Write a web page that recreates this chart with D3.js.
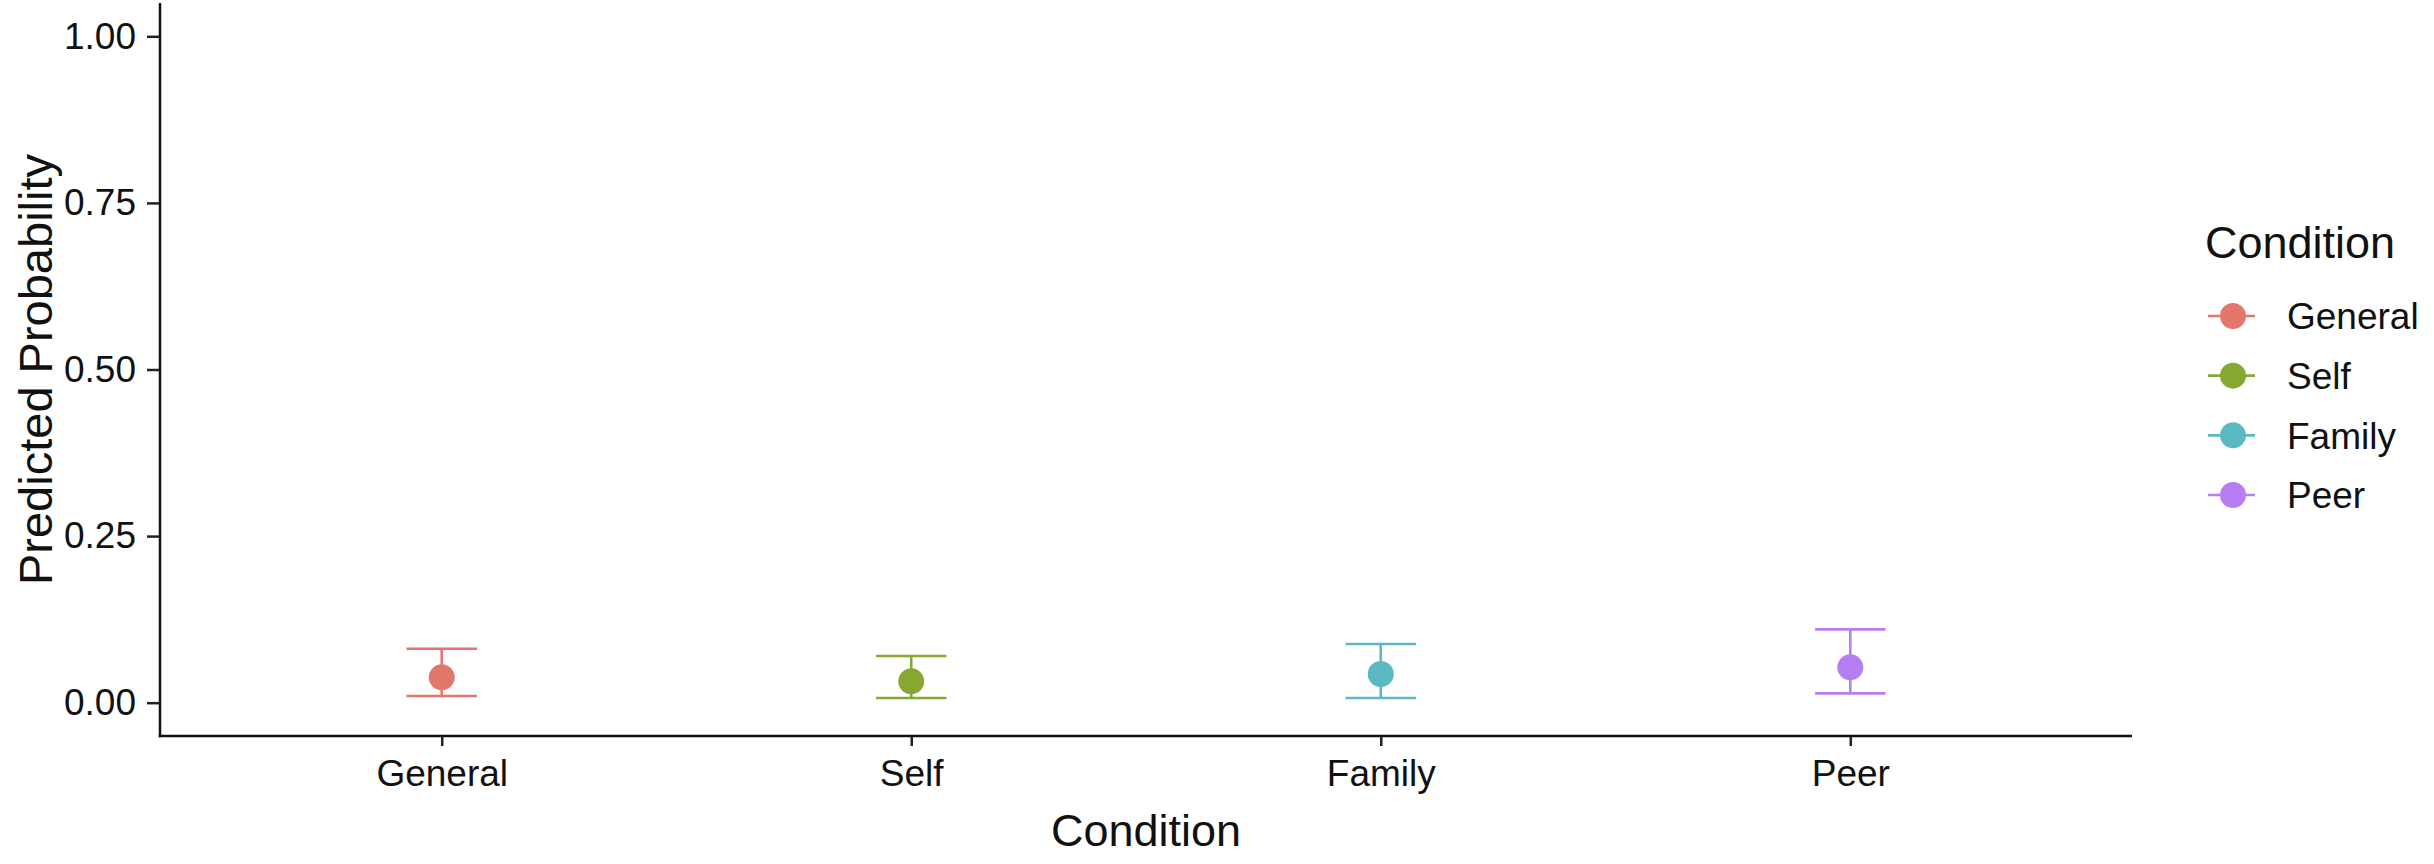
<!DOCTYPE html>
<html>
<head>
<meta charset="utf-8">
<script src="https://cdn.jsdelivr.net/npm/d3@7"></script>
<style>
  body { margin: 0; background: #fff; }
  svg text { font-family: "Liberation Sans", Arial, sans-serif; fill: #111; }
</style>
</head>
<body>
<div id="chart"></div>
<script>
// data
var conditions = ["General", "Self", "Family", "Peer"];
var estimate = [0.038, 0.032, 0.043, 0.053];
var lower = [0.010, 0.007, 0.007, 0.014];
var upper = [0.081, 0.070, 0.088, 0.110];
var colours = ["#E4776C", "#86A833", "#5BBAC1", "#B77DF3"];
var yTicks = [0, 0.25, 0.5, 0.75, 1];

var W = 2434, H = 864;
var margin = {top: 3, right: 302, bottom: 128, left: 160},
    width = W - margin.left - margin.right,
    height = H - margin.top - margin.bottom;

var data = conditions.map(function(c, i) {
  return {cond: c, est: estimate[i], lo: lower[i], hi: upper[i]};
});

var x = d3.scalePoint().domain(conditions).range([0, width]).padding(0.6);
var y = d3.scaleLinear().domain([-0.05, 1.05]).range([height, 0]);
var colour = d3.scaleOrdinal().domain(conditions).range(colours);

var svg = d3.select("#chart").append("svg")
    .attr("width", W)
    .attr("height", H);

var g = svg.append("g")
    .attr("transform", "translate(" + margin.left + "," + margin.top + ")");

// axes
var yAxis = d3.axisLeft(y).tickValues(yTicks).tickFormat(d3.format(".2f"))
    .tickSize(13).tickPadding(11);
var xAxis = d3.axisBottom(x).tickSize(10).tickPadding(14);

var gy = g.append("g").attr("class", "y axis").call(yAxis);
var gx = g.append("g").attr("class", "x axis")
    .attr("transform", "translate(0," + height + ")").call(xAxis);

[gx, gy].forEach(function(a) {
  a.select(".domain").remove();
  a.selectAll(".tick line").attr("stroke", "#222").attr("stroke-width", 2.5);
  a.selectAll(".tick text").style("font-size", "37px").attr("fill", "#111");
});

// axis lines (theme_classic)
g.append("line").attr("x1", 0).attr("x2", 0).attr("y1", 0).attr("y2", height + 1.25)
  .attr("stroke", "#111").attr("stroke-width", 2.5);
g.append("line").attr("x1", -1.25).attr("x2", width).attr("y1", height).attr("y2", height)
  .attr("stroke", "#111").attr("stroke-width", 2.5);

// error bars
var capHalf = x.step() * 0.075;
var bars = g.selectAll(".err").data(data).enter().append("g").attr("class", "err")
  .attr("stroke", function(d) { return colour(d.cond); })
  .attr("stroke-width", 2.6);

bars.append("line")
  .attr("x1", function(d) { return x(d.cond); })
  .attr("x2", function(d) { return x(d.cond); })
  .attr("y1", function(d) { return y(d.lo); })
  .attr("y2", function(d) { return y(d.hi); });
bars.append("line")
  .attr("x1", function(d) { return x(d.cond) - capHalf; })
  .attr("x2", function(d) { return x(d.cond) + capHalf; })
  .attr("y1", function(d) { return y(d.hi); })
  .attr("y2", function(d) { return y(d.hi); });
bars.append("line")
  .attr("x1", function(d) { return x(d.cond) - capHalf; })
  .attr("x2", function(d) { return x(d.cond) + capHalf; })
  .attr("y1", function(d) { return y(d.lo); })
  .attr("y2", function(d) { return y(d.lo); });

g.selectAll(".dot").data(data).enter().append("circle")
  .attr("class", "dot")
  .attr("r", 13)
  .attr("cx", function(d) { return x(d.cond); })
  .attr("cy", function(d) { return y(d.est); })
  .attr("fill", function(d) { return colour(d.cond); });

// axis titles
svg.append("text")
  .attr("x", margin.left + width / 2)
  .attr("y", 846)
  .attr("text-anchor", "middle")
  .style("font-size", "45px")
  .text("Condition");

svg.append("text")
  .attr("transform", "translate(52," + (margin.top + height / 2) + ") rotate(-90)")
  .attr("text-anchor", "middle")
  .style("font-size", "47px")
  .text("Predicted Probability");

// legend
var legend = svg.append("g").attr("id", "legend");
legend.append("text")
  .attr("x", 2205)
  .attr("y", 258)
  .style("font-size", "45px")
  .text("Condition");

var keyY = d3.scalePoint().domain(conditions).range([316, 495]);
var keys = legend.selectAll(".key").data(conditions).enter().append("g")
  .attr("class", "key")
  .attr("transform", function(d) { return "translate(2233," + keyY(d) + ")"; });

keys.append("line")
  .attr("x1", -25).attr("x2", 22).attr("y1", 0).attr("y2", 0)
  .attr("stroke", function(d) { return colour(d); })
  .attr("stroke-width", 2.6);
keys.append("circle")
  .attr("r", 13)
  .attr("fill", function(d) { return colour(d); });
keys.append("text")
  .attr("x", 54)
  .attr("dy", "0.36em")
  .style("font-size", "37px")
  .text(function(d) { return d; });
</script>
</body>
</html>
